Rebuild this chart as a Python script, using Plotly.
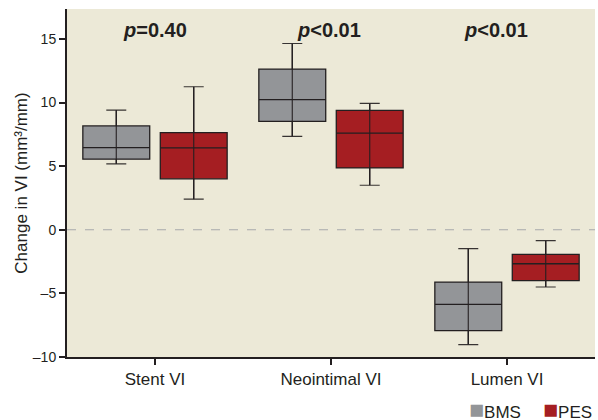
import plotly.graph_objects as go

categories = ["Stent VI", "Neointimal VI", "Lumen VI"]
p_labels = ["<b><i>p</i>=0.40</b>", "<b><i>p</i>&lt;0.01</b>", "<b><i>p</i>&lt;0.01</b>"]
group_names = ["BMS", "PES"]

# BMS
bms_lower = [5.18, 7.34, -9.02]
bms_q1 = [5.55, 8.52, -7.92]
bms_median = [6.46, 10.22, -5.86]
bms_q3 = [8.16, 12.63, -4.11]
bms_upper = [9.40, 14.64, -1.49]

# PES
pes_lower = [2.40, 3.50, -4.50]
pes_q1 = [4.00, 4.86, -4.00]
pes_median = [6.43, 7.60, -2.67]
pes_q3 = [7.63, 9.38, -1.94]
pes_upper = [11.24, 9.93, -0.86]

FONT = "Liberation Sans, Arial, sans-serif"
BG = "#ECE9D7"
GRAY = "#939598"
RED = "#A51E22"
DARK = "#231F20"

OFF = 0.22
W = 0.38
idx = list(range(len(categories)))

ML, MR, MT, MB = 67, 3, 9, 63
PW = 598 - ML - MR
PH = 420 - MT - MB

fig = go.Figure()


def add_group(name, color, lower, q1, med, q3, upper, sign):
    xs = [i + sign * OFF for i in idx]
    fig.add_trace(go.Box(
        name=name, x=xs, q1=q1, median=med, q3=q3,
        lowerfence=lower, upperfence=upper,
        width=W, fillcolor=color, line=dict(color=DARK, width=1.3),
        whiskerwidth=0, showlegend=False, hoverinfo="skip",
    ))
    fig.add_trace(go.Scatter(
        x=xs, y=med, mode="markers", marker=dict(size=0.1, opacity=0),
        error_y=dict(type="data", symmetric=False,
                     array=[u - m for u, m in zip(upper, med)],
                     arrayminus=[m - l for m, l in zip(med, lower)],
                     color="rgba(35,31,32,0.9)", thickness=1.2, width=10),
        showlegend=False, hoverinfo="skip",
    ))


add_group(group_names[0], GRAY, bms_lower, bms_q1, bms_median, bms_q3, bms_upper, -1)
add_group(group_names[1], RED, pes_lower, pes_q1, pes_median, pes_q3, pes_upper, 1)

p_x = [0, 0.99, 1.94]
for px, lab in zip(p_x, p_labels):
    fig.add_annotation(x=px, y=15.7, xref="x", yref="y", text=lab,
                       showarrow=False, font=dict(family=FONT, size=20, color=DARK))

# legend (colored squares + labels) below the plot, at the right
leg_px = [467, 541]
for lx, name, col in zip(leg_px, group_names, [GRAY, RED]):
    fig.add_annotation(x=(lx - ML) / PW, y=(420 - MB - 409) / PH, xref="paper", yref="paper",
                       xanchor="left", yanchor="middle", showarrow=False,
                       text=f"<span style='color:{col};font-size:25px'>\u25a0</span>{name}",
                       font=dict(family=FONT, size=17, color=DARK))

fig.add_shape(type="line", xref="paper", yref="y", x0=0, x1=1, y0=0, y1=0,
              line=dict(color="#A7A9AC", width=1.2, dash="dash"), layer="below")

fig.update_layout(
    width=598, height=420,
    margin=dict(l=ML, r=MR, t=MT, b=MB),
    paper_bgcolor="white", plot_bgcolor=BG,
    showlegend=False,
    xaxis=dict(range=[-0.5, 2.5], tickvals=idx, ticktext=categories, automargin=False,
               showgrid=False, zeroline=False, showline=True, linecolor=DARK, linewidth=2,
               ticks="outside", ticklen=6, tickcolor=DARK, tickwidth=1.5,
               tickfont=dict(family=FONT, size=17, color=DARK)),
    yaxis=dict(range=[-10, 17.35], tickvals=[-10, -5, 0, 5, 10, 15], automargin=False,
               ticktext=["\u201310", "\u20135", "0", "5", "10", "15"],
               showgrid=False, zeroline=False, showline=True, linecolor=DARK, linewidth=2,
               ticks="outside", ticklen=6, tickcolor=DARK, tickwidth=1.5,
               tickfont=dict(family=FONT, size=14, color=DARK),
               title=dict(text="Change in VI (mm\u00b3/mm)", standoff=1,
                          font=dict(family=FONT, size=17, color=DARK))),
)

fig.write_html("out.html", config={"displayModeBar": False},
               post_script="document.body.style.margin='0';")
